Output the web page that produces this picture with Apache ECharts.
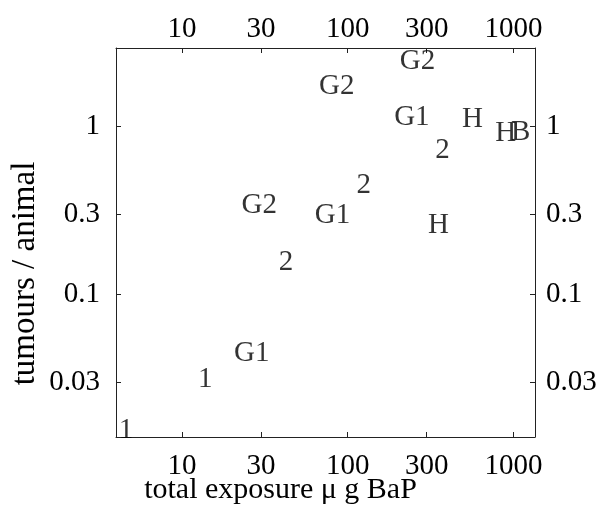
<!DOCTYPE html>
<html>
<head>
<meta charset="utf-8">
<script src="https://cdn.jsdelivr.net/npm/echarts@6/dist/echarts.min.js"></script>
<style>html,body{margin:0;padding:0;background:#fff}#c{width:597px;height:521px}</style>
</head>
<body>
<div id="c"></div>
<script>
const labels   = ['1', '1', 'G1', '2', 'G2', 'G1', '2', 'G2', 'G2', 'G1', 'H', 'H', 'B', '2', 'H'];
const exposure = [4.6, 13.8, 26.4, 42.4, 29.3, 81, 125, 86, 264, 244, 566, 900, 1108, 373, 353];
const tumours  = [0.0156, 0.0313, 0.0446, 0.156, 0.337, 0.294, 0.447, 1.72, 2.40, 1.13, 1.09, 0.905, 0.913, 0.714, 0.259];
const xTicks = [10, 30, 100, 300, 1000];
const yTicks = [0.03, 0.1, 0.3, 1];

const FONT = 'Liberation Serif';
const FS = 29;
const chart = echarts.init(document.getElementById('c'));

function xAx(pos) {
  const bottom = pos === 'bottom';
  return {
    type: 'log', logBase: 10, min: 4, max: 1350, position: pos,
    name: bottom ? 'total exposure \u03bc g BaP' : '',
    nameLocation: 'middle', nameGap: 38, nameMoveOverlap: false,
    nameTextStyle: {fontFamily: FONT, fontSize: 30, color: '#000', padding: [0, 90, 0, 0]},
    axisLine: {show: true, lineStyle: {color: '#222', width: 1}},
    axisTick: {show: true, inside: true, length: 5, customValues: xTicks, lineStyle: {color: '#222'}},
    axisLabel: {show: true, customValues: xTicks, fontFamily: FONT, fontSize: FS, color: '#000',
      margin: bottom ? 15 : 4, formatter: v => String(v)},
    splitLine: {show: false}, minorTick: {show: false}
  };
}
function yAx(pos) {
  const left = pos === 'left';
  return {
    type: 'log', logBase: 10, min: 0.0143, max: 2.9, position: pos,
    name: left ? 'tumours / animal' : '',
    nameLocation: 'middle', nameGap: 74, nameRotate: 90, nameMoveOverlap: false,
    nameTextStyle: {fontFamily: FONT, fontSize: 33, color: '#000', padding: [0, 62, 0, 0]},
    axisLine: {show: true, lineStyle: {color: '#222', width: 1}},
    axisTick: {show: true, inside: true, length: 5, customValues: yTicks, lineStyle: {color: '#222'}},
    axisLabel: {show: true, customValues: yTicks, fontFamily: FONT, fontSize: FS, color: '#000',
      margin: left ? 16 : 11, formatter: v => String(v)},
    splitLine: {show: false}, minorTick: {show: false}
  };
}

chart.setOption({
  backgroundColor: '#fff',
  animation: false,
  grid: {left: 116, right: 62, top: 48, bottom: 84, containLabel: false, outerBoundsMode: 'none'},
  xAxis: [xAx('bottom'), xAx('top')],
  yAxis: [yAx('left'), yAx('right')],
  series: [{
    type: 'scatter',
    symbolSize: 1,
    itemStyle: {color: 'rgba(0,0,0,0)'},
    data: exposure.map((x, i) => [x, tumours[i]]),
    label: {
      show: true, position: 'inside',
      formatter: p => labels[p.dataIndex],
      fontFamily: FONT, fontSize: FS, color: '#000', textBorderWidth: 0
    }
  }]
});
</script>
</body>
</html>
